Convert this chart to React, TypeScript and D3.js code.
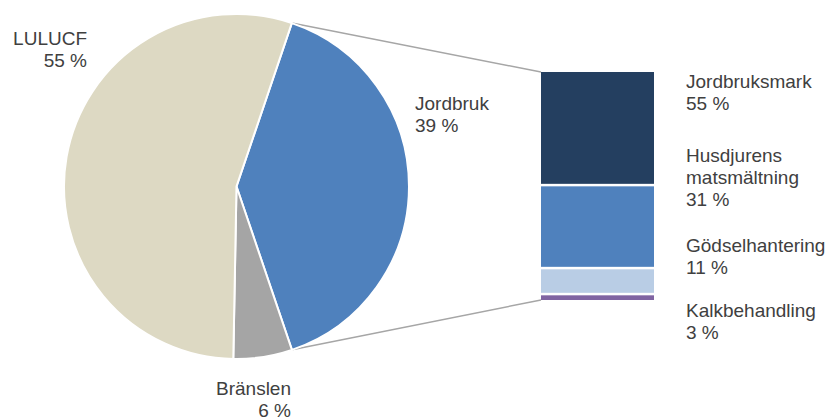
import React from "react";
import * as d3 from "d3";

// pie: shares, labels as printed
const pieNames = ["Jordbruk", "Bränslen", "LULUCF"];
const pieValues = [39.6, 5.5, 54.9];
const pieLabels = ["39 %", "6 %", "55 %"];
const pieColors = ["#4F81BD", "#A5A5A5", "#DDD9C3"];

// breakdown of Jordbruk
const barNames = [["Jordbruksmark"], ["Husdjurens", "matsmältning"], ["Gödselhantering"], ["Kalkbehandling"]];
const barValues = [49.6, 36.4, 11.4, 2.6];
const barLabels = ["55 %", "31 %", "11 %", "3 %"];
const barColors = ["#243F60", "#4F81BD", "#B9CDE5", "#8064A2"];

const W = 832;
const H = 420;
const cx = 236.5;
const cy = 186.5;
const R = 172.5;
const startDeg = 18.7;

const barX = 541;
const barW = 113;
const barTop = 72;
const barBottom = 300;
const gap = 2.5;

const font = "'Liberation Sans', Arial, sans-serif";
const textColor = "#404040";

export default function App() {
  const start = (startDeg * Math.PI) / 180;
  const pie = d3
    .pie<number>()
    .sort(null)
    .value((d) => d)
    .startAngle(start)
    .endAngle(start + 2 * Math.PI);
  const arcs = pie(pieValues);
  const arc = d3.arc<d3.PieArcDatum<number>>().innerRadius(0).outerRadius(R);

  const y = d3
    .scaleLinear()
    .domain([0, d3.sum(barValues)])
    .range([barTop, barBottom]);

  let cum = 0;
  const segs = barValues.map((v, i) => {
    const y0 = y(cum) + (i > 0 ? gap / 2 : 0);
    const y1 = y(cum + v) - (i < barValues.length - 1 ? gap / 2 : 0);
    cum += v;
    return { y0, y1, i };
  });

  // connector lines from Jordbruk edges to the bar
  const jb = arcs[0];
  const pTop: [number, number] = [cx + R * Math.sin(jb.startAngle), cy - R * Math.cos(jb.startAngle)];
  const pBot: [number, number] = [cx + R * Math.sin(jb.endAngle), cy - R * Math.cos(jb.endAngle)];

  // label anchors (baselines)
  const pieLabelPos = [
    { x: 415, y: 110, anchor: "start" },
    { x: 291, y: 395, anchor: "end" },
    { x: 87, y: 45, anchor: "end" },
  ];
  const barLabelY = [88, 162, 252, 317];
  const lh = 22;

  return (
    <svg
      width={W}
      height={H}
      style={{ position: "absolute", left: 0, top: 0, background: "#fff" }}
      fontFamily={font}
      fontSize={19}
    >
      <line x1={pTop[0]} y1={pTop[1]} x2={barX} y2={barTop} stroke="#A6A6A6" strokeWidth={1.5} />
      <line x1={pBot[0]} y1={pBot[1]} x2={barX} y2={barBottom} stroke="#A6A6A6" strokeWidth={1.5} />

      <g transform={`translate(${cx},${cy})`}>
        {arcs.map((a, i) => (
          <path key={pieNames[i]} d={arc(a) || ""} fill={pieColors[i]} stroke="#fff" strokeWidth={2} />
        ))}
      </g>

      {pieNames.map((n, i) => (
        <text key={n} x={pieLabelPos[i].x} y={pieLabelPos[i].y} textAnchor={pieLabelPos[i].anchor as any} fill={textColor}>
          <tspan x={pieLabelPos[i].x}>{n}</tspan>
          <tspan x={pieLabelPos[i].x} dy={lh}>
            {pieLabels[i]}
          </tspan>
        </text>
      ))}

      {segs.map((s) => (
        <rect key={s.i} x={barX} y={s.y0} width={barW} height={s.y1 - s.y0} fill={barColors[s.i]} />
      ))}

      {barNames.map((lines, i) => (
        <text key={i} x={686} y={barLabelY[i]} fill={textColor}>
          {lines.map((l, j) => (
            <tspan key={j} x={686} dy={j === 0 ? 0 : lh}>
              {l}
            </tspan>
          ))}
          <tspan x={686} dy={lh}>
            {barLabels[i]}
          </tspan>
        </text>
      ))}
    </svg>
  );
}
